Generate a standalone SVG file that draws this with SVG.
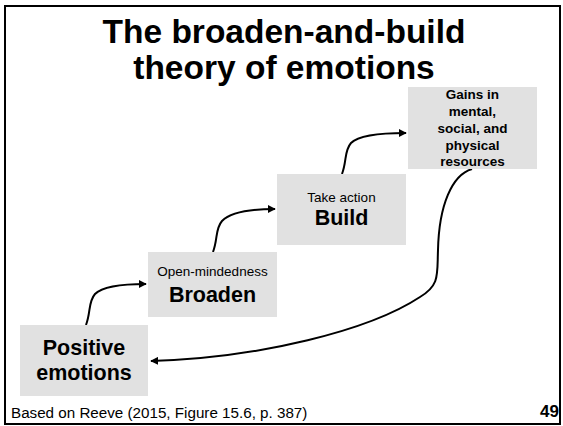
<svg xmlns="http://www.w3.org/2000/svg" width="563" height="426" viewBox="0 0 563 426">
<defs>
<marker id="ah" viewBox="0 0 10 10" refX="9" refY="5" markerWidth="4" markerHeight="4" orient="auto" markerUnits="strokeWidth">
<path d="M0,0 L10,5 L0,10 z" fill="#000"/>
</marker>
<style>
.t{font-family:"Liberation Sans",Arial,sans-serif;fill:#000;text-anchor:middle}
.b{font-weight:bold}
.box{fill:#e1e1e1}
.c{fill:none;stroke:#000;stroke-width:2;marker-end:url(#ah)}
</style>
</defs>
<rect x="0" y="0" width="563" height="426" fill="#fff"/>
<rect x="5" y="6" width="555" height="418" fill="none" stroke="#000" stroke-width="2"/>
<g id="title">
<text class="t b" x="284" y="43" font-size="33.5">The broaden-and-build</text>
<text class="t b" x="284" y="79" font-size="33.5">theory of emotions</text>
</g>
<g id="connectors">
<path class="c" d="M86,325 C91,312 88,302 95,294 C103,286 122,284 146,284"/>
<path class="c" d="M213,252 C218,239 215,229 222,221 C230,213 250,209 275,209"/>
<path class="c" d="M342,174 C347,161 344,151 351,143 C359,135 380,133 406,133"/>
<path class="c" d="M472,169 C452,175 439,205 438,250 C437,275 440,285 420,297 C370,330 260,358 151,361"/>
</g>
<g id="positive">
<rect class="box" x="20" y="325" width="128" height="71"/>
<text class="t b" x="84" y="355" font-size="21.5">Positive</text>
<text class="t b" x="84" y="380" font-size="21.5">emotions</text>
</g>
<g id="broaden">
<rect class="box" x="148" y="252" width="129" height="65"/>
<text class="t" x="212.5" y="276" font-size="13.5">Open-mindedness</text>
<text class="t b" x="212.5" y="302" font-size="21.5">Broaden</text>
</g>
<g id="build">
<rect class="box" x="277" y="174" width="129" height="71"/>
<text class="t" x="341.5" y="202" font-size="13.5">Take action</text>
<text class="t b" x="341.5" y="225" font-size="21.5">Build</text>
</g>
<g id="gains">
<rect class="box" x="408" y="87" width="129" height="82"/>
<text class="t b" x="472.5" y="99" font-size="13.5">Gains in</text>
<text class="t b" x="472.5" y="116" font-size="13.5">mental,</text>
<text class="t b" x="472.5" y="133" font-size="13.5">social, and</text>
<text class="t b" x="472.5" y="150" font-size="13.5">physical</text>
<text class="t b" x="472.5" y="166" font-size="13.5">resources</text>
</g>
<g id="footer">
<text class="t" x="11" y="418" font-size="15.2" style="text-anchor:start">Based on Reeve (2015, Figure 15.6, p. 387)</text>
<text class="t b" x="559" y="417" font-size="17" style="text-anchor:end">49</text>
</g>
</svg>
